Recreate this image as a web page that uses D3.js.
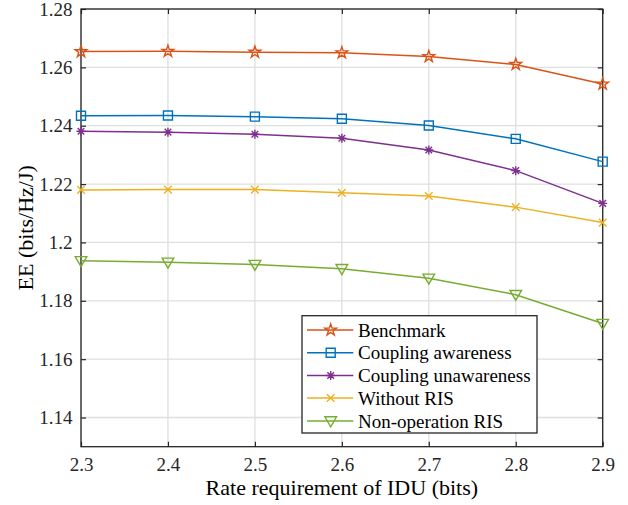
<!DOCTYPE html>
<html>
<head>
<meta charset="utf-8">
<script src="https://cdn.jsdelivr.net/npm/d3@7"></script>
<style>
  html, body { margin: 0; padding: 0; background: #fff; }
  svg { display: block; font-family: "Liberation Serif", "Times New Roman", serif; }
</style>
</head>
<body>
<svg id="chart" width="628" height="505"></svg>
<script>
// Rate requirement of the IDU (bits)
const rates = [2.3, 2.4, 2.5, 2.6, 2.7, 2.8, 2.9];

// Energy efficiency (bits/Hz/J) of each scheme
const benchmark = [1.2654, 1.2655, 1.2652, 1.2650, 1.2637, 1.2610, 1.2543];
const couplingAware = [1.2434, 1.2435, 1.2431, 1.2424, 1.2401, 1.2355, 1.2277];
const couplingUnaware = [1.2381, 1.2378, 1.2371, 1.2357, 1.2317, 1.2246, 1.2134];
const withoutRIS = [1.2180, 1.2181, 1.2181, 1.2170, 1.2159, 1.2121, 1.2068];
const nonOperationRIS = [1.1937, 1.1932, 1.1924, 1.1910, 1.1877, 1.1821, 1.1722];

const seriesNames = ["Benchmark", "Coupling awareness", "Coupling unawareness", "Without RIS", "Non-operation RIS"];
const seriesValues = [benchmark, couplingAware, couplingUnaware, withoutRIS, nonOperationRIS];
const seriesColors = ["#D95319", "#0072BD", "#7E2F8E", "#EDB120", "#77AC30"];
const seriesMarkers = ["pentagram", "square", "asterisk", "cross", "triangleDown"];

const xTicks = [2.3, 2.4, 2.5, 2.6, 2.7, 2.8, 2.9];
const xTickLabels = ["2.3", "2.4", "2.5", "2.6", "2.7", "2.8", "2.9"];
const yTicks = [1.14, 1.16, 1.18, 1.20, 1.22, 1.24, 1.26, 1.28];
const yTickLabels = ["1.14", "1.16", "1.18", "1.2", "1.22", "1.24", "1.26", "1.28"];

const xLabel = "Rate requirement of IDU (bits)";
const yLabel = "EE (bits/Hz/J)";

const svg = d3.select("#chart");
const plot = { left: 81, right: 602.7, top: 9, bottom: 446.7 };

const x = d3.scaleLinear().domain([2.3, 2.9]).range([plot.left, plot.right]);
const y = d3.scaleLinear().domain([1.13, 1.28]).range([plot.bottom, plot.top]);

const axisColor = "#262626";
const tickFont = 19;

// grid
const grid = svg.append("g");
grid.selectAll(".gx").data(xTicks).join("line")
  .attr("x1", d => x(d)).attr("x2", d => x(d))
  .attr("y1", plot.top).attr("y2", plot.bottom)
  .attr("stroke", "#dfdfdf").attr("stroke-width", 1.3);
grid.selectAll(".gy").data(yTicks).join("line")
  .attr("x1", plot.left).attr("x2", plot.right)
  .attr("y1", d => y(d)).attr("y2", d => y(d))
  .attr("stroke", "#dfdfdf").attr("stroke-width", 1.3);

// axes with inward ticks on all four sides
const tickLen = 5;
function styleAxis(g) {
  g.select(".domain").remove();
  g.selectAll(".tick line").attr("stroke", axisColor).attr("stroke-width", 1.2);
  g.selectAll(".tick text").attr("fill", axisColor)
    .style("font-family", "'Liberation Serif', 'Times New Roman', serif")
    .style("font-size", tickFont + "px");
}
svg.append("g").attr("transform", `translate(0,${plot.bottom})`)
  .call(d3.axisBottom(x).tickValues(xTicks).tickFormat((d, i) => xTickLabels[i])
    .tickSizeInner(-tickLen).tickSizeOuter(0).tickPadding(11))
  .call(styleAxis);
svg.append("g").attr("transform", `translate(0,${plot.top})`)
  .call(d3.axisTop(x).tickValues(xTicks).tickFormat("").tickSizeInner(-tickLen).tickSizeOuter(0))
  .call(styleAxis);
svg.append("g").attr("transform", `translate(${plot.left},0)`)
  .call(d3.axisLeft(y).tickValues(yTicks).tickFormat((d, i) => yTickLabels[i])
    .tickSizeInner(-tickLen).tickSizeOuter(0).tickPadding(8.5))
  .call(styleAxis);
svg.append("g").attr("transform", `translate(${plot.right},0)`)
  .call(d3.axisRight(y).tickValues(yTicks).tickFormat("").tickSizeInner(-tickLen).tickSizeOuter(0))
  .call(styleAxis);

// axes box
svg.append("rect")
  .attr("x", plot.left).attr("y", plot.top)
  .attr("width", plot.right - plot.left).attr("height", plot.bottom - plot.top)
  .attr("fill", "none").attr("stroke", axisColor).attr("stroke-width", 1.3);

// marker shapes
function markerPath(type) {
  switch (type) {
    case "pentagram": return d3.symbol(d3.symbolStar, 42)();
    case "square": return "M-4.5,-4.5H4.5V4.5H-4.5Z";
    case "asterisk": return "M-4.5,0H4.5M0,-4.5V4.5M-3.3,-3.3L3.3,3.3M-3.3,3.3L3.3,-3.3";
    case "cross": return "M-3.8,-3.8L3.8,3.8M-3.8,3.8L3.8,-3.8";
    case "triangleDown": return "M-5.8,-4.2H5.8L0,5.8Z";
  }
}

const line = d3.line().x((d, i) => x(rates[i])).y(d => y(d));

seriesValues.forEach((vals, s) => {
  const g = svg.append("g");
  g.append("path").datum(vals).attr("d", line)
    .attr("fill", "none").attr("stroke", seriesColors[s]).attr("stroke-width", 1.5);
  g.selectAll("path.m").data(vals).join("path").attr("class", "m")
    .attr("d", markerPath(seriesMarkers[s]))
    .attr("transform", (d, i) => `translate(${x(rates[i])},${y(d)})`)
    .attr("fill", "none").attr("stroke", seriesColors[s]).attr("stroke-width", 1.4);
});

// axis labels
svg.append("text")
  .attr("x", (plot.left + plot.right) / 2).attr("y", 495)
  .attr("text-anchor", "middle").attr("fill", "#000")
  .style("font-size", "22px").text(xLabel);
svg.append("text")
  .attr("transform", `translate(33,${(plot.top + plot.bottom) / 2}) rotate(-90)`)
  .attr("text-anchor", "middle").attr("fill", "#000")
  .style("font-size", "22px").text(yLabel);

// legend
const legend = svg.append("g");
const lg = { x: 302, y: 315.7, w: 235, h: 117.3, rowY: [330, 352.7, 375.5, 398, 421] };
legend.append("rect")
  .attr("x", lg.x).attr("y", lg.y).attr("width", lg.w).attr("height", lg.h)
  .attr("fill", "#fff").attr("stroke", axisColor).attr("stroke-width", 1.3);
seriesNames.forEach((name, s) => {
  const ry = lg.rowY[s];
  legend.append("line").attr("x1", 307).attr("x2", 353.3).attr("y1", ry).attr("y2", ry)
    .attr("stroke", seriesColors[s]).attr("stroke-width", 1.5);
  legend.append("path").attr("d", markerPath(seriesMarkers[s]))
    .attr("transform", `translate(330.7,${ry})`)
    .attr("fill", "none").attr("stroke", seriesColors[s]).attr("stroke-width", 1.4);
  legend.append("text").attr("x", 358).attr("y", ry + 6.5)
    .attr("fill", "#000").style("font-size", "19px").text(name);
});
</script>
</body>
</html>
